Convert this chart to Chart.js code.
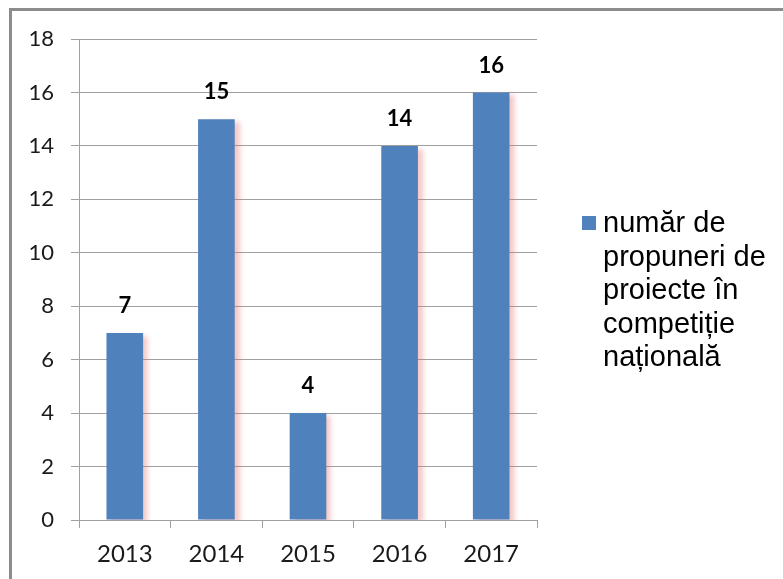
<!DOCTYPE html>
<html>
<head>
<meta charset="utf-8">
<script src="https://cdn.jsdelivr.net/npm/chart.js@4/dist/chart.umd.min.js"></script>
<style>
    html, body { margin: 0; padding: 0; background: #fff; overflow: hidden; }
    #wrap { position: relative; width: 783px; height: 579px; }
    #frame {
        position: absolute; left: 9px; top: 8px; right: -20px; bottom: -20px;
        border: 3px solid #8c8c8c; pointer-events: none;
    }
    canvas { position: absolute; left: 0; top: 0; }
</style>
</head>
<body>
<div id="wrap">
    <canvas id="chart" width="783" height="579"></canvas>
    <div id="frame"></div>
</div>
<script>
const years = ["2013", "2014", "2015", "2016", "2017"];
const proposals = [7, 15, 4, 14, 16];
const seriesLabel = "număr de propuneri de proiecte în competiție națională";
const legendLines = ["număr de", "propuneri de", "proiecte în", "competiție", "națională"];
const yMax = 18;
const yStep = 2;

const barBlue = "#4f81bd";
const gridGray = "#a0a0a0";
const axisFont = "Lato, 'Liberation Sans', sans-serif";

const barExtras = {
    id: "barExtras",
    beforeDatasetsDraw(chart) {
        const ctx = chart.ctx;
        ctx.save();
        ctx.shadowColor = "rgba(225, 110, 110, 0.38)";
        ctx.shadowOffsetX = 5;
        ctx.shadowOffsetY = 3;
        ctx.shadowBlur = 5;
    },
    afterDatasetsDraw(chart) {
        const ctx = chart.ctx;
        ctx.restore();

        // values above bars
        const meta = chart.getDatasetMeta(0);
        ctx.save();
        ctx.fillStyle = "#000";
        ctx.font = "bold 22px " + axisFont;
        ctx.textAlign = "center";
        ctx.textBaseline = "middle";
        meta.data.forEach((bar, i) => {
            ctx.fillText(String(proposals[i]), bar.x, bar.y - 27);
        });
        ctx.restore();
    },
    afterDraw(chart) {
        // legend on the right, wrapped like the original
        const ctx = chart.ctx;
        const area = chart.chartArea;
        const x = area.right + 45;
        const top = 224;
        ctx.save();
        ctx.fillStyle = barBlue;
        ctx.fillRect(x, top - 8, 14, 14);
        ctx.fillStyle = "#000";
        ctx.font = "29px 'Liberation Sans', Arial, sans-serif";
        ctx.textAlign = "left";
        ctx.textBaseline = "middle";
        legendLines.forEach((line, i) => {
            ctx.fillText(line, x + 21, top + i * 33.6);
        });
        ctx.restore();
    }
};

new Chart(document.getElementById("chart"), {
    type: "bar",
    data: {
        labels: years,
        datasets: [{
            label: seriesLabel,
            data: proposals,
            backgroundColor: barBlue,
            borderWidth: 0,
            barPercentage: 0.4,
            categoryPercentage: 1
        }]
    },
    options: {
        responsive: false,
        animation: false,
        layout: {
            padding: { top: 39, right: 246, left: 0, bottom: 0 }
        },
        plugins: {
            legend: { display: false },
            tooltip: { enabled: false }
        },
        scales: {
            x: {
                grid: {
                    drawOnChartArea: false,
                    color: gridGray,
                    tickLength: 8,
                    offset: true
                },
                border: { color: gridGray },
                ticks: {
                    color: "#1a1a1a",
                    font: { family: axisFont, size: 24 },
                    padding: 12
                },
                afterFit: scale => { scale.height = 59; }
            },
            y: {
                min: 0,
                max: yMax,
                grid: {
                    color: gridGray,
                    tickLength: 8
                },
                border: { color: gridGray },
                ticks: {
                    stepSize: yStep,
                    color: "#1a1a1a",
                    font: { family: axisFont, size: 22 },
                    padding: 17
                },
                afterFit: scale => { scale.width = 79; }
            }
        }
    },
    plugins: [barExtras]
});
</script>
</body>
</html>
